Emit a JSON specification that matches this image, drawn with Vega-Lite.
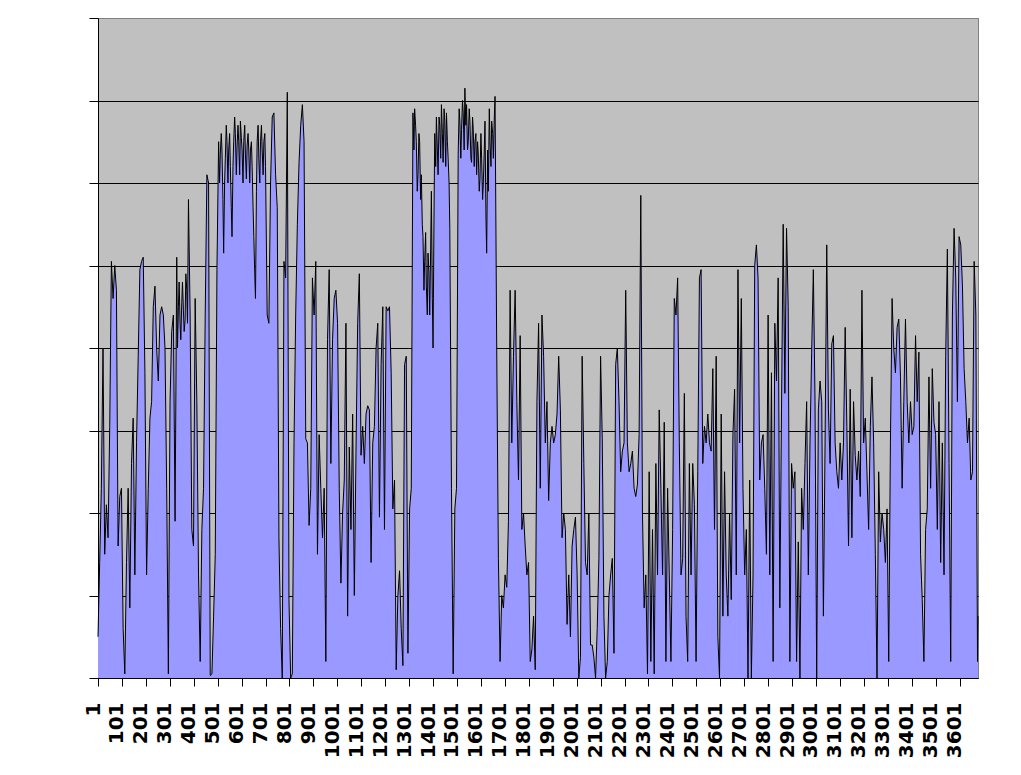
{
  "$schema": "https://vega.github.io/schema/vega-lite/v6.json",
  "width": 880,
  "height": 660,
  "autosize": "none",
  "padding": {"left": 98, "top": 18, "right": 43, "bottom": 97},
  "background": "white",
  "data": {"values": [
    {"i":1,"v":0.5},{"i":8,"v":1.4},{"i":15,"v":2.3},{"i":22,"v":4.0},{"i":29,"v":1.5},{"i":36,"v":2.1},{"i":43,"v":1.7},{"i":50,"v":3.05},{"i":57,"v":5.05},{"i":64,"v":4.6},
    {"i":71,"v":5.0},{"i":78,"v":4.7},{"i":85,"v":1.6},{"i":92,"v":2.2},{"i":99,"v":2.3},{"i":106,"v":0.6},{"i":113,"v":0.05},{"i":120,"v":1.4},{"i":127,"v":2.3},{"i":134,"v":0.85},
    {"i":141,"v":2.6},{"i":148,"v":3.15},{"i":155,"v":1.25},{"i":162,"v":2.85},{"i":169,"v":3.9},{"i":176,"v":4.95},{"i":183,"v":5.05},{"i":190,"v":5.1},{"i":197,"v":3.7},{"i":204,"v":1.25},
    {"i":211,"v":2.3},{"i":218,"v":3.15},{"i":225,"v":3.35},{"i":232,"v":4.5},{"i":239,"v":4.75},{"i":246,"v":4.0},{"i":253,"v":3.6},{"i":260,"v":4.4},{"i":267,"v":4.5},{"i":274,"v":4.4},
    {"i":281,"v":4.0},{"i":288,"v":2.3},{"i":295,"v":0.05},{"i":302,"v":3.35},{"i":309,"v":4.2},{"i":316,"v":4.4},{"i":323,"v":1.9},{"i":330,"v":5.1},{"i":337,"v":4.5},{"i":344,"v":4.3},
    {"i":351,"v":4.55},{"i":358,"v":4.45},{"i":365,"v":4.35},{"i":372,"v":4.7},{"i":379,"v":5.8},{"i":386,"v":4.4},{"i":393,"v":1.8},{"i":400,"v":1.6},{"i":407,"v":4.6},{"i":414,"v":3.35},
    {"i":421,"v":1.25},{"i":428,"v":0.2},{"i":435,"v":1.8},{"i":442,"v":2.3},{"i":449,"v":4.4},{"i":456,"v":6.1},{"i":463,"v":6.0},{"i":470,"v":0.03},{"i":477,"v":0.05},{"i":484,"v":0.75},
    {"i":491,"v":1.5},{"i":498,"v":4.95},{"i":505,"v":6.5},{"i":512,"v":6.35},{"i":519,"v":6.4},{"i":526,"v":5.15},{"i":533,"v":6.3},{"i":540,"v":6.5},{"i":547,"v":6.4},{"i":554,"v":6.2},
    {"i":561,"v":5.35},{"i":568,"v":6.5},{"i":575,"v":6.6},{"i":582,"v":6.45},{"i":589,"v":6.5},{"i":596,"v":6.75},{"i":603,"v":6.4},{"i":610,"v":6.5},{"i":617,"v":6.35},{"i":624,"v":6.45},
    {"i":631,"v":6.4},{"i":638,"v":6.4},{"i":645,"v":6.2},{"i":652,"v":5.35},{"i":659,"v":4.6},{"i":666,"v":6.5},{"i":673,"v":6.3},{"i":680,"v":6.5},{"i":687,"v":6.4},{"i":694,"v":6.5},
    {"i":701,"v":6.2},{"i":708,"v":4.4},{"i":715,"v":4.3},{"i":722,"v":6.0},{"i":729,"v":6.8},{"i":736,"v":6.85},{"i":743,"v":6.1},{"i":750,"v":5.7},{"i":757,"v":1.7},{"i":764,"v":0.6},
    {"i":771,"v":0},{"i":778,"v":5.05},{"i":785,"v":4.85},{"i":792,"v":7.1},{"i":799,"v":0.95},{"i":806,"v":0},{"i":813,"v":0.05},{"i":820,"v":2.85},{"i":827,"v":4.4},{"i":834,"v":5.5},
    {"i":841,"v":6.25},{"i":848,"v":6.7},{"i":855,"v":6.95},{"i":862,"v":6.5},{"i":869,"v":2.9},{"i":876,"v":2.85},{"i":883,"v":1.85},{"i":890,"v":2.3},{"i":897,"v":4.85},{"i":904,"v":4.4},
    {"i":911,"v":5.05},{"i":918,"v":1.5},{"i":925,"v":2.95},{"i":932,"v":2.3},{"i":939,"v":1.7},{"i":946,"v":2.3},{"i":953,"v":0.2},{"i":960,"v":4.1},{"i":967,"v":4.95},{"i":974,"v":2.6},
    {"i":981,"v":4.1},{"i":988,"v":4.6},{"i":995,"v":4.7},{"i":1002,"v":4.3},{"i":1009,"v":2.3},{"i":1016,"v":1.15},{"i":1023,"v":2.0},{"i":1030,"v":2.4},{"i":1037,"v":4.3},{"i":1044,"v":0.75},
    {"i":1051,"v":2.8},{"i":1058,"v":1.8},{"i":1065,"v":3.2},{"i":1072,"v":1.0},{"i":1079,"v":2.75},{"i":1086,"v":4.3},{"i":1093,"v":4.9},{"i":1100,"v":2.7},{"i":1107,"v":3.05},{"i":1114,"v":2.6},
    {"i":1121,"v":3.2},{"i":1128,"v":3.3},{"i":1135,"v":3.25},{"i":1142,"v":1.4},{"i":1149,"v":2.85},{"i":1156,"v":3.05},{"i":1163,"v":4.0},{"i":1170,"v":4.3},{"i":1177,"v":1.95},{"i":1184,"v":3.8},
    {"i":1191,"v":4.5},{"i":1198,"v":1.8},{"i":1205,"v":4.5},{"i":1212,"v":4.45},{"i":1219,"v":4.5},{"i":1226,"v":3.7},{"i":1233,"v":2.05},{"i":1240,"v":2.4},{"i":1247,"v":0.1},{"i":1254,"v":1.0},
    {"i":1261,"v":1.3},{"i":1268,"v":0.6},{"i":1275,"v":0.15},{"i":1282,"v":3.8},{"i":1289,"v":3.9},{"i":1296,"v":0.3},{"i":1303,"v":2.05},{"i":1310,"v":2.3},{"i":1317,"v":6.85},{"i":1324,"v":6.9},
    {"i":1331,"v":6.5},{"i":1338,"v":6.1},{"i":1345,"v":6.5},{"i":1352,"v":6.1},{"i":1359,"v":5.35},{"i":1366,"v":5.05},{"i":1373,"v":4.75},{"i":1380,"v":5.15},{"i":1387,"v":4.4},{"i":1394,"v":5.9},
    {"i":1401,"v":4.0},{"i":1408,"v":6.6},{"i":1415,"v":6.8},{"i":1422,"v":6.1},{"i":1429,"v":6.7},{"i":1436,"v":6.95},{"i":1443,"v":6.25},{"i":1450,"v":6.75},{"i":1457,"v":6.85},{"i":1464,"v":6.3},
    {"i":1471,"v":5.45},{"i":1478,"v":2.3},{"i":1485,"v":0.05},{"i":1492,"v":2.05},{"i":1499,"v":2.3},{"i":1506,"v":6.35},{"i":1513,"v":6.75},{"i":1520,"v":6.65},{"i":1527,"v":6.85},{"i":1534,"v":7.15},
    {"i":1541,"v":6.95},{"i":1548,"v":6.5},{"i":1555,"v":6.75},{"i":1562,"v":6.25},{"i":1569,"v":6.65},{"i":1576,"v":6.5},{"i":1583,"v":6.1},{"i":1590,"v":6.35},{"i":1597,"v":6.05},{"i":1604,"v":6.3},
    {"i":1611,"v":6.0},{"i":1618,"v":6.75},{"i":1625,"v":5.15},{"i":1632,"v":5.9},{"i":1639,"v":6.5},{"i":1646,"v":6.75},{"i":1653,"v":6.3},{"i":1660,"v":7.05},{"i":1667,"v":4.0},{"i":1674,"v":1.45},
    {"i":1681,"v":0.2},{"i":1688,"v":1.0},{"i":1695,"v":0.85},{"i":1702,"v":1.25},{"i":1709,"v":1.1},{"i":1716,"v":1.9},{"i":1723,"v":4.7},{"i":1730,"v":2.85},{"i":1737,"v":3.9},{"i":1744,"v":4.7},
    {"i":1751,"v":3.35},{"i":1758,"v":2.4},{"i":1765,"v":4.15},{"i":1772,"v":1.8},{"i":1779,"v":2.0},{"i":1786,"v":1.6},{"i":1793,"v":1.25},{"i":1800,"v":1.4},{"i":1807,"v":0.2},{"i":1814,"v":0.35},
    {"i":1821,"v":0.75},{"i":1828,"v":0.1},{"i":1835,"v":3.35},{"i":1842,"v":4.3},{"i":1849,"v":2.3},{"i":1856,"v":4.4},{"i":1863,"v":3.9},{"i":1870,"v":2.85},{"i":1877,"v":3.35},{"i":1884,"v":2.15},
    {"i":1891,"v":2.85},{"i":1898,"v":3.05},{"i":1905,"v":2.85},{"i":1912,"v":2.95},{"i":1919,"v":3.2},{"i":1926,"v":3.9},{"i":1933,"v":3.25},{"i":1940,"v":1.7},{"i":1947,"v":2.0},{"i":1954,"v":1.8},
    {"i":1961,"v":0.65},{"i":1968,"v":1.25},{"i":1975,"v":0.5},{"i":1982,"v":1.6},{"i":1989,"v":1.8},{"i":1996,"v":1.95},{"i":2003,"v":1.25},{"i":2010,"v":0},{"i":2017,"v":0.25},{"i":2024,"v":3.9},
    {"i":2031,"v":2.6},{"i":2038,"v":1.4},{"i":2045,"v":1.25},{"i":2052,"v":2.0},{"i":2059,"v":0.4},{"i":2066,"v":0.4},{"i":2073,"v":0.25},{"i":2080,"v":0},{"i":2087,"v":0.6},{"i":2094,"v":1.45},
    {"i":2101,"v":3.9},{"i":2108,"v":2.9},{"i":2115,"v":0.75},{"i":2122,"v":0},{"i":2129,"v":0.2},{"i":2136,"v":1.0},{"i":2143,"v":1.25},{"i":2150,"v":1.45},{"i":2157,"v":0.3},{"i":2164,"v":3.8},
    {"i":2171,"v":4.0},{"i":2178,"v":3.35},{"i":2185,"v":2.5},{"i":2192,"v":2.75},{"i":2199,"v":2.85},{"i":2206,"v":4.7},{"i":2213,"v":2.85},{"i":2220,"v":2.5},{"i":2227,"v":2.6},{"i":2234,"v":2.75},
    {"i":2241,"v":2.3},{"i":2248,"v":2.2},{"i":2255,"v":2.35},{"i":2262,"v":2.95},{"i":2269,"v":5.85},{"i":2276,"v":2.0},{"i":2283,"v":0.85},{"i":2290,"v":1.25},{"i":2297,"v":0.05},{"i":2304,"v":2.5},
    {"i":2311,"v":0.2},{"i":2318,"v":1.8},{"i":2325,"v":0.05},{"i":2332,"v":2.6},{"i":2339,"v":1.25},{"i":2346,"v":3.25},{"i":2353,"v":2.3},{"i":2360,"v":1.25},{"i":2367,"v":3.1},{"i":2374,"v":0.2},
    {"i":2381,"v":2.3},{"i":2388,"v":1.25},{"i":2395,"v":0.2},{"i":2402,"v":1.8},{"i":2409,"v":4.6},{"i":2416,"v":4.4},{"i":2423,"v":4.85},{"i":2430,"v":2.85},{"i":2437,"v":1.25},{"i":2444,"v":1.45},
    {"i":2451,"v":3.45},{"i":2458,"v":0.75},{"i":2465,"v":0.2},{"i":2472,"v":2.6},{"i":2479,"v":1.25},{"i":2486,"v":2.6},{"i":2493,"v":2.1},{"i":2500,"v":0.2},{"i":2507,"v":2.5},{"i":2514,"v":4.85},
    {"i":2521,"v":4.95},{"i":2528,"v":2.6},{"i":2535,"v":3.05},{"i":2542,"v":2.85},{"i":2549,"v":3.2},{"i":2556,"v":2.85},{"i":2563,"v":2.75},{"i":2570,"v":3.75},{"i":2577,"v":1.8},{"i":2584,"v":3.9},
    {"i":2591,"v":0.5},{"i":2598,"v":0},{"i":2605,"v":3.2},{"i":2612,"v":0.75},{"i":2619,"v":2.5},{"i":2626,"v":1.25},{"i":2633,"v":0.75},{"i":2640,"v":2.0},{"i":2647,"v":0.95},{"i":2654,"v":2.95},
    {"i":2661,"v":3.5},{"i":2668,"v":1.25},{"i":2675,"v":4.95},{"i":2682,"v":2.85},{"i":2689,"v":4.6},{"i":2696,"v":2.3},{"i":2703,"v":1.25},{"i":2710,"v":1.8},{"i":2717,"v":0},{"i":2724,"v":2.4},
    {"i":2731,"v":0},{"i":2738,"v":1.25},{"i":2745,"v":5.0},{"i":2752,"v":5.25},{"i":2759,"v":4.85},{"i":2766,"v":2.4},{"i":2773,"v":2.85},{"i":2780,"v":2.95},{"i":2787,"v":2.3},{"i":2794,"v":1.5},
    {"i":2801,"v":4.4},{"i":2808,"v":1.25},{"i":2815,"v":3.7},{"i":2822,"v":0.2},{"i":2829,"v":4.3},{"i":2836,"v":3.6},{"i":2843,"v":4.85},{"i":2850,"v":0.85},{"i":2857,"v":3.25},{"i":2864,"v":5.5},
    {"i":2871,"v":3.45},{"i":2878,"v":5.45},{"i":2885,"v":4.5},{"i":2892,"v":0.2},{"i":2899,"v":2.6},{"i":2906,"v":2.3},{"i":2913,"v":2.5},{"i":2920,"v":0.2},{"i":2927,"v":1.65},{"i":2934,"v":0},
    {"i":2941,"v":2.3},{"i":2948,"v":1.8},{"i":2955,"v":2.6},{"i":2962,"v":3.35},{"i":2969,"v":1.25},{"i":2976,"v":2.85},{"i":2983,"v":3.95},{"i":2990,"v":4.95},{"i":2997,"v":3.35},{"i":3004,"v":0},
    {"i":3011,"v":3.25},{"i":3018,"v":3.6},{"i":3025,"v":3.35},{"i":3032,"v":0.75},{"i":3039,"v":2.85},{"i":3046,"v":5.25},{"i":3053,"v":3.25},{"i":3060,"v":2.6},{"i":3067,"v":4.05},{"i":3074,"v":4.15},
    {"i":3081,"v":2.85},{"i":3088,"v":2.5},{"i":3095,"v":2.3},{"i":3102,"v":2.85},{"i":3109,"v":2.4},{"i":3116,"v":2.85},{"i":3123,"v":4.25},{"i":3130,"v":3.05},{"i":3137,"v":1.6},{"i":3144,"v":3.5},
    {"i":3151,"v":1.7},{"i":3158,"v":3.35},{"i":3165,"v":2.7},{"i":3172,"v":2.4},{"i":3179,"v":2.75},{"i":3186,"v":2.2},{"i":3193,"v":4.7},{"i":3200,"v":2.85},{"i":3207,"v":3.15},{"i":3214,"v":2.5},
    {"i":3221,"v":1.8},{"i":3228,"v":3.05},{"i":3235,"v":3.65},{"i":3242,"v":2.85},{"i":3249,"v":1.5},{"i":3256,"v":0},{"i":3263,"v":2.5},{"i":3270,"v":1.65},{"i":3277,"v":2.0},{"i":3284,"v":1.8},
    {"i":3291,"v":1.4},{"i":3298,"v":2.05},{"i":3305,"v":0.2},{"i":3312,"v":2.85},{"i":3319,"v":4.6},{"i":3326,"v":4.0},{"i":3333,"v":3.7},{"i":3340,"v":4.25},{"i":3347,"v":4.35},{"i":3354,"v":3.65},
    {"i":3361,"v":2.3},{"i":3368,"v":3.35},{"i":3375,"v":4.35},{"i":3382,"v":3.35},{"i":3389,"v":2.85},{"i":3396,"v":3.35},{"i":3403,"v":2.95},{"i":3410,"v":3.05},{"i":3417,"v":4.15},{"i":3424,"v":3.35},
    {"i":3431,"v":3.95},{"i":3438,"v":1.5},{"i":3445,"v":0.95},{"i":3452,"v":0.2},{"i":3459,"v":1.8},{"i":3466,"v":2.05},{"i":3473,"v":3.65},{"i":3480,"v":2.3},{"i":3487,"v":3.75},{"i":3494,"v":3.1},
    {"i":3501,"v":2.95},{"i":3508,"v":1.8},{"i":3515,"v":3.35},{"i":3522,"v":1.4},{"i":3529,"v":2.85},{"i":3536,"v":1.25},{"i":3543,"v":3.9},{"i":3550,"v":5.2},{"i":3557,"v":2.6},{"i":3564,"v":0.2},
    {"i":3571,"v":4.4},{"i":3578,"v":5.45},{"i":3585,"v":4.85},{"i":3592,"v":3.35},{"i":3599,"v":5.35},{"i":3606,"v":5.25},{"i":3613,"v":4.75},{"i":3620,"v":3.75},{"i":3627,"v":3.35},{"i":3634,"v":2.85},
    {"i":3641,"v":3.15},{"i":3648,"v":2.4},{"i":3655,"v":2.5},{"i":3662,"v":5.05},{"i":3669,"v":4.4},{"i":3676,"v":0.2},{"i":3678,"v":0.75},
    {"i":333,"v":4.0},{"i":340,"v":4.8},{"i":347,"v":4.1},{"i":354,"v":4.8},{"i":361,"v":4.2},{"i":368,"v":4.9},{"i":375,"v":4.3},{"i":382,"v":5.2},
    {"i":509,"v":6.0},{"i":516,"v":6.6},{"i":523,"v":5.8},{"i":530,"v":6.0},{"i":537,"v":6.7},{"i":544,"v":6.0},{"i":551,"v":6.6},{"i":558,"v":5.7},{"i":565,"v":6.2},{"i":572,"v":6.8},
    {"i":579,"v":6.1},{"i":586,"v":6.7},{"i":593,"v":6.1},{"i":600,"v":6.55},{"i":607,"v":6.0},{"i":614,"v":6.7},{"i":621,"v":6.05},{"i":628,"v":6.6},{"i":635,"v":6.0},{"i":642,"v":6.5},
    {"i":649,"v":5.7},{"i":656,"v":4.9},{"i":663,"v":5.9},{"i":670,"v":6.7},{"i":677,"v":6.0},{"i":684,"v":6.7},{"i":691,"v":6.1},{"i":698,"v":6.6},
    {"i":1321,"v":6.4},{"i":1328,"v":6.7},{"i":1335,"v":5.9},{"i":1342,"v":6.6},{"i":1349,"v":5.8},{"i":1356,"v":5.5},{"i":1363,"v":4.7},{"i":1370,"v":5.4},{"i":1377,"v":4.4},{"i":1384,"v":4.9},
    {"i":1391,"v":5.2},{"i":1398,"v":4.6},{"i":1405,"v":5.6},{"i":1412,"v":6.2},{"i":1419,"v":6.4},{"i":1426,"v":6.8},{"i":1433,"v":6.3},{"i":1440,"v":6.6},{"i":1447,"v":6.9},{"i":1454,"v":6.2},
    {"i":1461,"v":6.5},{"i":1468,"v":6.0},
    {"i":1510,"v":6.9},{"i":1517,"v":6.3},{"i":1524,"v":7.0},{"i":1531,"v":6.4},{"i":1538,"v":6.7},{"i":1545,"v":6.4},{"i":1552,"v":6.9},{"i":1559,"v":6.3},{"i":1566,"v":6.8},{"i":1573,"v":6.2},
    {"i":1580,"v":6.6},{"i":1587,"v":6.5},{"i":1594,"v":5.9},{"i":1601,"v":6.6},{"i":1608,"v":5.8},{"i":1615,"v":6.4},{"i":1622,"v":5.6},{"i":1629,"v":6.4},{"i":1636,"v":6.9},{"i":1643,"v":6.2},
    {"i":1650,"v":6.6},{"i":1657,"v":6.8}
  ]},
  "mark": {
    "type": "area",
    "color": "#9999FF",
    "opacity": 1,
    "line": {"color": "black", "strokeWidth": 1}
  },
  "encoding": {
    "x": {
      "field": "i",
      "type": "quantitative",
      "scale": {"domain": [1, 3678], "nice": false, "zero": false},
      "axis": {
        "title": null,
        "values": [1, 101, 201, 301, 401, 501, 601, 701, 801, 901, 1001, 1101, 1201, 1301, 1401, 1501, 1601, 1701, 1801, 1901, 2001, 2101, 2201, 2301, 2401, 2501, 2601, 2701, 2801, 2901, 3001, 3101, 3201, 3301, 3401, 3501, 3601],
        "format": "d",
        "labelAngle": -90,
        "labelFont": "DejaVu Sans",
        "labelFontSize": 20,
        "labelFontWeight": "bold",
        "labelColor": "black",
        "labelPadding": 16,
        "labelOffset": -5,
        "labelFlush": false,
        "labelOverlap": false,
        "labelBound": false,
        "tickColor": "black",
        "tickSize": 8,
        "domainColor": "black",
        "grid": false
      }
    },
    "y": {
      "field": "v",
      "type": "quantitative",
      "scale": {"domain": [0, 8], "nice": false},
      "axis": {
        "title": null,
        "values": [0, 1, 2, 3, 4, 5, 6, 7, 8],
        "labels": false,
        "tickColor": "black",
        "tickSize": 9,
        "domainColor": "black",
        "grid": true,
        "gridColor": {"condition": {"test": "datum.value == 8", "value": "#808080"}, "value": "black"},
        "gridOpacity": 1
      }
    }
  },
  "config": {
    "view": {"fill": "#C0C0C0", "stroke": "#808080"}
  }
}
